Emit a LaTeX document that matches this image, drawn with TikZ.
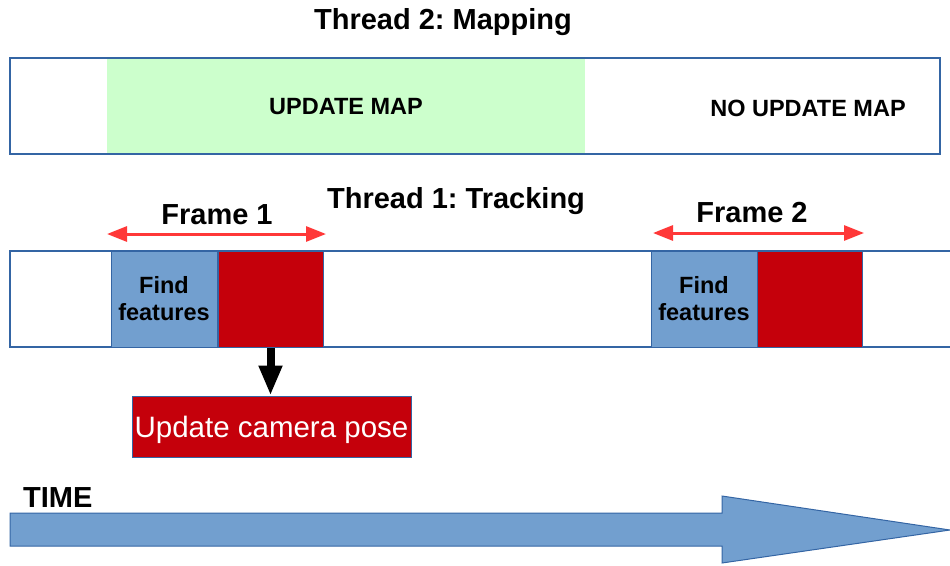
\documentclass[tikz,border=0pt]{standalone}
\usepackage{fontspec}
\setmainfont{Liberation Sans}
\usetikzlibrary{arrows.meta}
\definecolor{boxblue}{HTML}{729FCF}
\definecolor{edgeblue}{HTML}{3465A4}
\definecolor{darkred}{HTML}{C5000B}
\definecolor{mapgreen}{HTML}{CCFFCC}
\definecolor{spanred}{HTML}{FF3838}
\frenchspacing
\tikzset{
  bigtxt/.style={font=\fontsize{29}{34}\selectfont\bfseries, inner sep=0pt},
  midtxt/.style={font=\fontsize{23.5}{27}\selectfont\bfseries, inner sep=0pt},
  findbox/.style={draw=edgeblue, line width=1pt, fill=boxblue, minimum width=106pt, minimum height=96pt,
    inner sep=0pt, align=center, font=\fontsize{23.5}{27}\selectfont\bfseries},
  workbox/.style={draw=edgeblue, line width=1pt, fill=darkred, minimum width=105pt, minimum height=96pt, inner sep=0pt},
  camerabox/.style={draw=edgeblue, line width=1pt, fill=darkred, text=white, minimum width=279pt, minimum height=61pt,
    inner sep=0pt, font=\fontsize{29.5}{34}\selectfont},
  span/.style={draw=spanred, line width=3pt, {Triangle[length=20pt,width=15pt]}-{Triangle[length=20pt,width=15pt]}},
  barline/.style={draw=edgeblue, line width=1.3pt},
}
\begin{document}
\begin{tikzpicture}[x=1pt,y=-1pt]
\useasboundingbox (0,0) rectangle (950,565);

% Mapping thread
\node[bigtxt] (t2) at (443,22) {Thread 2: Mapping};
\fill[mapgreen] (107,58) rectangle (585,154);
\draw[barline] (10,58) rectangle (940,154);
\node[midtxt] (upd) at (346,107) {UPDATE MAP};
\node[midtxt] (noupd) at (808,108) {NO UPDATE MAP};

% Tracking thread
\node[bigtxt] (t1) at (456,201) {Thread 1: Tracking};
\draw[barline] (952,251) -- (10,251) -- (10,347) -- (952,347);

\node[findbox] (ff1) at (164,299) {Find\\features};
\node[workbox] (w1) at (270.5,299) {};
\node[findbox] (ff2) at (704,299) {Find\\features};
\node[workbox] (w2) at (809.5,299) {};

% Frame spans
\node[bigtxt] (f1) at (217,215) {Frame 1};
\coordinate (f1a) at (107,234);
\coordinate (f1b) at (326,234);
\draw[span] (f1a) -- (f1b);
\node[bigtxt] (f2) at (752,213) {Frame 2};
\coordinate (f2a) at (653,233);
\coordinate (f2b) at (864,233);
\draw[span] (f2a) -- (f2b);

% Pose update
\node[camerabox] (cam) at (271.5,426.5) {\raisebox{-3pt}[\height][\depth]{Update camera pose}};
\draw[line width=8pt, -{Triangle[length=30pt,width=22pt]}] (w1.south) -- (w1.south |- cam.north);

% Time axis
\node[bigtxt, anchor=west] (time) at (23,498) {TIME};
\filldraw[fill=boxblue, draw=edgeblue, line width=1pt]
  (10,513) -- (722,513) -- (722,496) -- (950,530) -- (722,563) -- (722,546) -- (10,546) -- cycle;
\end{tikzpicture}
\end{document}
